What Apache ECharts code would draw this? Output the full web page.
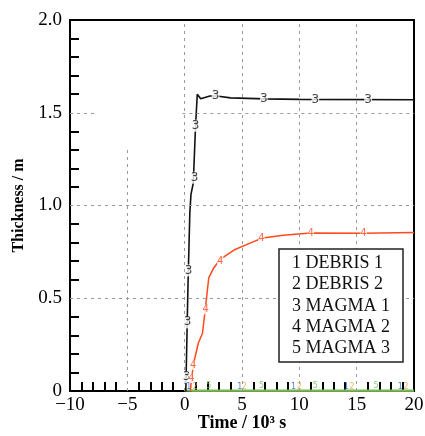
<!DOCTYPE html>
<html>
<head>
<meta charset="utf-8">
<script src="https://cdn.jsdelivr.net/npm/echarts@6/dist/echarts.min.js"></script>
<style>
  html, body { margin: 0; padding: 0; background: #fff; }
  #chart { width: 425px; height: 436px; }
</style>
</head>
<body>
<div id="chart"></div>
<script>
// curves, [time (10^3 s), thickness (m)]
const magma1 = [[0.1, 0], [0.2, 0.3], [0.3, 0.6], [0.45, 0.96], [0.55, 1.06], [0.75, 1.12], [0.95, 1.43],
  [1.1, 1.6], [1.4, 1.575], [2.2, 1.59], [2.8, 1.59], [4, 1.58], [7, 1.575], [10, 1.572], [20, 1.57]];
const magma2 = [[0.5, 0], [0.6, 0.07], [0.8, 0.155], [1.2, 0.26], [1.55, 0.31], [1.8, 0.44], [2.1, 0.61],
  [2.5, 0.66], [3.1, 0.71], [4.3, 0.76], [5.8, 0.8], [6.8, 0.825], [8.6, 0.84], [11, 0.852], [15.6, 0.85], [20, 0.855]];
const magma3 = [[0, 0.003], [20, 0.003]];
const debris1 = [[0.3, 0], [20, 0]];
const debris2 = [[0.6, 0], [20, 0]];

// curve number labels along the lines
const magma1Marks = [[0.17, 0.075], [0.26, 0.37], [0.35, 0.65], [0.87, 1.15], [0.96, 1.43], [2.7, 1.59], [6.9, 1.575], [11.4, 1.572], [16, 1.57]];
const magma2Marks = [[0.6, 0.07], [0.75, 0.14], [1.83, 0.44], [3.1, 0.7], [6.7, 0.82], [11, 0.852], [15.6, 0.85]];
const magma3Marks = [[2.1, 0.03], [6.7, 0.03], [11.4, 0.03], [16.7, 0.03]];
const debris1Marks = [[0.35, 0.02], [4.8, 0.02], [9.5, 0.02], [14.1, 0.02], [18.8, 0.02]];
const debris2Marks = [[0.9, 0.02], [5.2, 0.02], [10, 0.02], [14.6, 0.02], [19.3, 0.02]];

const legendLines = ['1 DEBRIS 1', '2 DEBRIS 2', '3 MAGMA 1', '4 MAGMA 2', '5 MAGMA 3'];

// dashed grid segments (some are only partly drawn in the original)
const gridSegments = [
  [[-5, 0], [-5, 1.31]], [[0, 0], [0, 2]], [[5, 0], [5, 2]], [[10, 0], [10, 2]], [[15, 0], [15, 2]],
  [[-10, 0.5], [20, 0.5]], [[-10, 1], [20, 1]], [[-10, 1.5], [-7.8, 1.5]], [[-0.2, 1.5], [20, 1.5]]
];

const serif = '"Liberation Serif", "DejaVu Serif", serif';

function marks(name, data, text, color, size) {
  return {
    type: 'scatter',
    name: name,
    data: data,
    symbolSize: 1,
    itemStyle: { color: 'transparent' },
    silent: true,
    z: 5,
    label: {
      show: true,
      position: 'inside',
      formatter: text,
      color: color,
      fontFamily: 'DejaVu Sans',
      fontSize: size,
      backgroundColor: size > 8 ? '#fff' : 'transparent',
      padding: 0
    }
  };
}

const chart = echarts.init(document.getElementById('chart'));
chart.setOption({
  animation: false,
  grid: {
    left: 70, right: 11, top: 20, bottom: 45,
    outerBoundsMode: 'none',
    show: true, borderColor: '#000', borderWidth: 2
  },
  xAxis: {
    type: 'value',
    min: -10, max: 20, interval: 5,
    name: 'Time / 10³ s',
    nameLocation: 'middle',
    nameGap: 23,
    nameMoveOverlap: false,
    nameTextStyle: { fontFamily: serif, fontSize: 18, fontWeight: 'bold', color: '#000' },
    axisLine: { onZero: false, lineStyle: { color: '#000', width: 2 } },
    axisTick: { show: false, inside: true },
    minorTick: { show: true, splitNumber: 5, length: 9, lineStyle: { color: '#000', width: 2 } },
    axisLabel: {
      margin: 5, fontFamily: serif, fontSize: 19, color: '#000',
      formatter: v => String(v).replace('-', '\u2212')
    },
    splitLine: { show: false }
  },
  yAxis: {
    type: 'value',
    min: 0, max: 2, interval: 0.5,
    name: 'Thickness / m',
    nameLocation: 'middle',
    nameGap: 41,
    nameTextStyle: { fontFamily: serif, fontSize: 16, fontWeight: 'bold', color: '#000' },
    axisLine: { show: true, onZero: false, lineStyle: { color: '#000', width: 2 } },
    axisTick: { show: false, inside: true },
    minorTick: { show: true, splitNumber: 5, length: 9, lineStyle: { color: '#000', width: 2 } },
    axisLabel: {
      margin: 8, fontFamily: serif, fontSize: 19, color: '#000',
      formatter: v => (v === 0 ? '0' : v.toFixed(1))
    },
    splitLine: { show: false }
  },
  series: [
    {
      type: 'line',
      name: 'grid',
      data: [],
      silent: true,
      markLine: {
        silent: true,
        symbol: 'none',
        label: { show: false },
        lineStyle: { type: [3, 4], color: '#999', width: 1 },
        data: gridSegments.map(s => [{ coord: s[0] }, { coord: s[1] }])
      }
    },
    { type: 'line', name: 'DEBRIS 1', data: debris1, symbol: 'none', lineStyle: { color: '#2a5bd7', width: 1.5 } },
    { type: 'line', name: 'DEBRIS 2', data: debris2, symbol: 'none', lineStyle: { color: '#e8a040', width: 1.5 } },
    { type: 'line', name: 'MAGMA 3', data: magma3, symbol: 'none', lineStyle: { color: '#6cc04a', width: 2 } },
    { type: 'line', name: 'MAGMA 2', data: magma2, symbol: 'none', lineStyle: { color: '#ff4a1c', width: 1.5 } },
    { type: 'line', name: 'MAGMA 1', data: magma1, symbol: 'none', lineStyle: { color: '#111', width: 1.6 } },
    marks('m1', magma1Marks, '3', '#111', 12),
    marks('m2', magma2Marks, '4', '#ff4a1c', 10),
    marks('m3', magma3Marks, '5', '#6cc04a', 8),
    marks('d1', debris1Marks, '1', '#2a5bd7', 8),
    marks('d2', debris2Marks, '2', '#e8a040', 8)
  ],
  graphic: [
    {
      type: 'rect',
      shape: { x: 279, y: 249, width: 124, height: 113 },
      style: { fill: '#fff', stroke: '#222', lineWidth: 1.5 },
      z: 10
    },
    ...legendLines.map((t, i) => ({
      type: 'text',
      x: 292,
      y: 263 + i * 21.4,
      style: {
        text: t,
        fontFamily: serif,
        fontSize: 18,
        fill: '#111',
        verticalAlign: 'middle'
      },
      z: 11
    }))
  ]
});
</script>
</body>
</html>
